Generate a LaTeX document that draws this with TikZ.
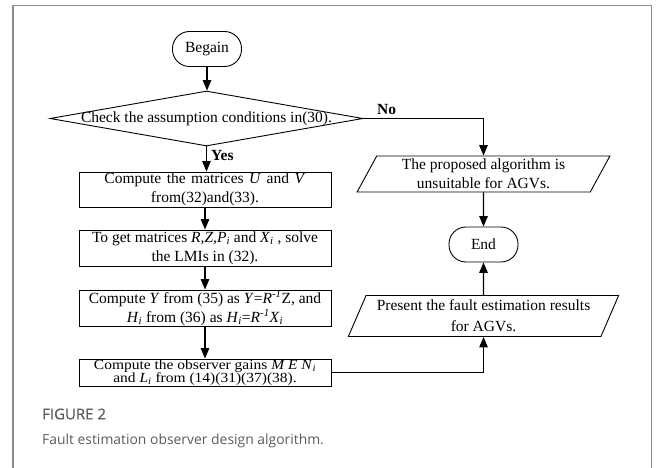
\documentclass[tikz,border=0pt]{standalone}
\usepackage{fontspec}
\setmainfont{Liberation Serif}
\newfontfamily\capfont{Open Sans}
\newfontfamily\capsbfont[FakeBold=0.6]{Open Sans}
\usetikzlibrary{shapes.geometric,arrows.meta}
\definecolor{framegray}{HTML}{8C8C8C}
\definecolor{capgray}{HTML}{5C5C5C}
\newcommand{\ii}{\textsubscript{\textit{i}}}
\newcommand{\inv}{\textsuperscript{\textit{-1}}}
\newcommand{\ws}{\hspace{5.5pt}}
\begin{document}
\begin{tikzpicture}[x=1pt,y=-1pt,
  txt/.style={font=\fontsize{15.5}{19}\selectfont},
  box/.style={draw, line width=0.9pt, minimum width=252pt, inner sep=0pt, align=center, txt},
  term/.style={draw, line width=0.9pt, rounded corners=17pt, minimum width=69pt, minimum height=35pt, inner sep=0pt, txt},
  io/.style={draw, line width=0.9pt, trapezium, trapezium left angle=63.4, trapezium right angle=116.6,
     trapezium stretches=true, inner sep=0pt, align=center, txt},
  flow/.style={line width=1.3pt, -{Triangle[length=10.5pt,width=8.5pt]}},
  lab/.style={font=\fontsize{15.5}{19}\selectfont\bfseries, anchor=west, inner sep=0pt}
]
\useasboundingbox (0,0) rectangle (658,468);
% frame
\draw[framegray, line width=1.2pt] (13,468) -- (13,5.5) -- (651.5,5.5) -- (651.5,468);

% nodes
\node[term] (begin) at (207,49) {Begain};
\node[draw, line width=0.9pt, diamond, minimum width=313pt, minimum height=55pt, inner sep=0pt, txt] (chk) at (206.5,118.5)
  {\makebox[0pt]{Check the assumption conditions in(30).}};
\node[box, minimum height=35pt] (b1) at (205,189.5)
  {Compute\ws the\ws matrices\ws\textit{U}\ws and\ws\textit{V}\\from(32)and(33).};
\node[box, minimum height=36pt] (b2) at (205,248)
  {To get matrices \textit{R,Z,P}\ii{} and \textit{X}\ii{} , solve\\the LMIs in (32).};
\node[box, minimum height=36pt] (b3) at (205,308)
  {Compute \textit{Y} from (35) as \textit{Y}=\textit{R}\inv Z, and\\\textit{H}\ii{} from (36) as \textit{H}\ii=\textit{R}\inv\textit{X}\ii};
\node[box, minimum height=27pt] (b4) at (205,372.5)
  {\scalebox{1}[0.9]{\parbox{252pt}{\centering\fontsize{15.5}{14.5}\selectfont
   Compute the observer gains \textit{M E N}\ii\\and \textit{L}\ii{} from (14)(31)(37)(38).}}};

\node[io, minimum width=253pt, minimum height=36pt] (p1) at (483.5,174)
  {The proposed algorithm is\\unsuitable for AGVs.};
\node[term] (end) at (483.5,244.5) {End};
\node[io, minimum width=271pt, minimum height=41pt, font=\fontsize{15.5}{21}\selectfont] (p2) at (483.5,316)
  {Present the fault estimation results\\for AGVs.};

% labels
\node[lab] (no) at (377,110) {No};
\node[lab] (yes) at (211,156) {Yes};

% connectors
\draw[flow] (begin.south) -- (begin.south |- chk.north);
\draw[flow] (chk.south) -- (chk.south |- b1.north);
\draw[flow] (b1.south) -- (b2.north);
\draw[flow] (b2.south) -- (b3.north);
\draw[flow] (b3.south) -- (b4.north);
\draw[flow] (chk.east) -| (p1.north);
\draw[flow] (p1.south) -- (end.north);
\draw[flow] (b4.east) -| (p2.south);
\draw[flow] (p2.north) -- (end.south);

% caption
\node[anchor=west, inner sep=0pt, text=capgray, font=\capsbfont\fontsize{15}{17}\selectfont] (fig) at (42,414) {FIGURE 2};
\node[anchor=west, inner sep=0pt, text=capgray, font=\capfont\fontsize{13.9}{16}\selectfont] (cap) at (42,441) {Fault estimation observer design algorithm.};
\end{tikzpicture}
\end{document}
